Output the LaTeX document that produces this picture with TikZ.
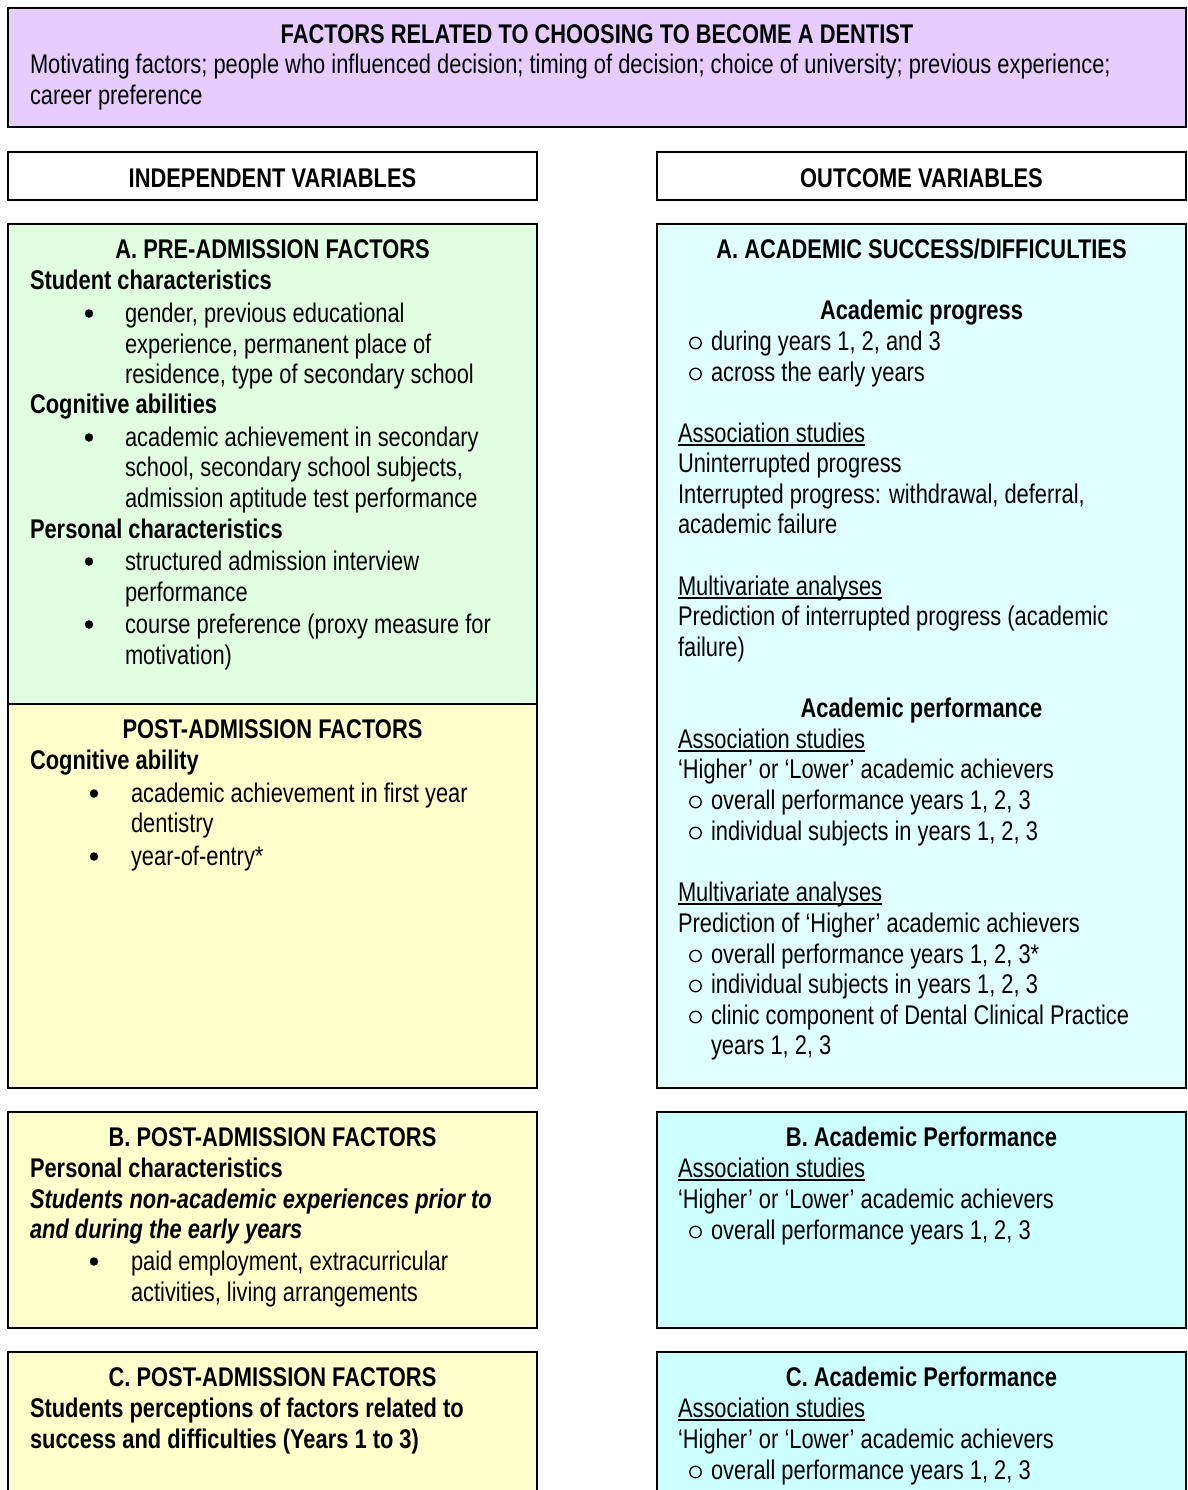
\documentclass[tikz,border=0pt]{standalone}
\usepackage{fontspec}
\setmainfont{Liberation Sans}[FakeStretch=0.81]
\definecolor{cpurple}{HTML}{E6CCFF}
\definecolor{cgreen}{HTML}{E0FFE0}
\definecolor{cyellow}{HTML}{FFFFCC}
\definecolor{ccyanA}{HTML}{E0FFFF}
\definecolor{ccyan}{HTML}{CCFFFF}
\tikzset{
  frame/.style={draw=black, line width=1.6pt},
  txt/.style={inner sep=0pt, outer sep=0pt, font=\fontsize{27}{31}\selectfont},
  lft/.style={txt, anchor=base west},
  ctr/.style={txt, anchor=base},
  dot/.style={circle, fill=black, inner sep=0pt, minimum size=8.5pt},
  ring/.style={circle, draw=black, line width=1.3pt, inner sep=0pt, minimum size=11.5pt},
  uline/.style={line width=1.7pt},
}
\newcommand\txtL[4]{\node[lft] (#1) at (#2,#3) {#4};}
\newcommand\txtC[4]{\node[ctr] (#1) at (#2,#3) {#4};}
\newcommand\txtU[3]{\node[lft] (#1) at (678,#2) {#3};
  \draw[uline] ([yshift=-3pt]#1.base west) -- ([yshift=-3pt]#1.base east);}
\newcommand\bul[5]{\node[dot] (#1) at (#2,#4-8.5) {}; \node[lft] (#1t) at (#3,#4) {#5};}
\newcommand\obul[3]{\node[ring] (#1) at (695.5,#2-7) {}; \node[lft] (#1t) at (711,#2) {#3};}
\begin{document}
\begin{tikzpicture}[x=1pt,y=-1pt]
\useasboundingbox (0,0) rectangle (1187,1490);
\clip (0,0) rectangle (1187,1490);
\fill[white] (0,0) rectangle (1187,1490);
% boxes
\path[frame, fill=cpurple] (8,8) rectangle (1186,127);
\path[frame, fill=white] (8,152) rectangle (537,200);
\path[frame, fill=white] (657,152) rectangle (1186,200);
\path[frame, fill=cgreen] (8,224) rectangle (537,704);
\path[frame, fill=cyellow] (8,704) rectangle (537,1088);
\path[frame, fill=ccyanA] (657,224) rectangle (1186,1088);
\path[frame, fill=cyellow] (8,1112) rectangle (537,1328);
\path[frame, fill=ccyan] (657,1112) rectangle (1186,1328);
\path[frame, fill=cyellow] (8,1352) rectangle (537,1520);
\path[frame, fill=ccyan] (657,1352) rectangle (1186,1520);
% top
\txtC{t0}{597}{44}{\bfseries FACTORS RELATED TO CHOOSING TO BECOME A DENTIST}
\txtL{t1}{30}{74}{Motivating factors; people who influenced decision; timing of decision; choice of university; previous experience;}
\txtL{t2}{30}{105}{career preference}
\txtC{iv}{272.5}{188}{\bfseries INDEPENDENT VARIABLES}
\txtC{ov}{921.5}{188}{\bfseries OUTCOME VARIABLES}
% left A
\txtC{la0}{272.5}{258}{\bfseries A. PRE-ADMISSION FACTORS}
\txtL{la1}{30}{289}{\bfseries Student characteristics}
\bul{la2}{89}{125}{322}{gender, previous educational}
\txtL{la3}{125}{353}{experience, permanent place of}
\txtL{la4}{125}{383}{residence, type of secondary school}
\txtL{la5}{30}{413}{\bfseries Cognitive abilities}
\bul{la6}{89}{125}{446}{academic achievement in secondary}
\txtL{la7}{125}{476}{school, secondary school subjects,}
\txtL{la8}{125}{507}{admission aptitude test performance}
\txtL{la9}{30}{538}{\bfseries Personal characteristics}
\bul{la10}{89}{125}{570}{structured admission interview}
\txtL{la11}{125}{601}{performance}
\bul{la12}{89}{125}{633}{course preference (proxy measure for}
\txtL{la13}{125}{664}{motivation)}
% post
\txtC{lp0}{272.5}{738}{\bfseries POST-ADMISSION FACTORS}
\txtL{lp1}{30}{769}{\bfseries Cognitive ability}
\bul{lp2}{94}{131}{802}{academic achievement in first year}
\txtL{lp3}{131}{832}{dentistry}
\bul{lp4}{94}{131}{865}{year-of-entry*}
% right A
\txtC{ra0}{921.5}{258}{\bfseries A. ACADEMIC SUCCESS/DIFFICULTIES}
\txtC{ra1}{921.5}{319}{\bfseries Academic progress}
\obul{ra2}{350}{during years 1, 2, and 3}
\obul{ra3}{381}{across the early years}
\txtU{ra4}{442}{Association studies}
\txtL{ra5}{678}{472}{Uninterrupted progress}
\txtL{ra6}{678}{503}{Interrupted progress: withdrawal, deferral,}
\txtL{ra7}{678}{533}{academic failure}
\txtU{ra8}{595}{Multivariate analyses}
\txtL{ra9}{678}{625}{Prediction of interrupted progress (academic}
\txtL{ra10}{678}{656}{failure)}
\txtC{ra11}{921.5}{717}{\bfseries Academic performance}
\txtU{ra12}{748}{Association studies}
\txtL{ra13}{678}{778}{‘Higher’ or ‘Lower’ academic achievers}
\obul{ra14}{809}{overall performance years 1, 2, 3}
\obul{ra15}{840}{individual subjects in years 1, 2, 3}
\txtU{ra16}{901}{Multivariate analyses}
\txtL{ra17}{678}{932}{Prediction of ‘Higher’ academic achievers}
\obul{ra18}{963}{overall performance years 1, 2, 3*}
\obul{ra19}{993}{individual subjects in years 1, 2, 3}
\obul{ra20}{1024}{clinic component of Dental Clinical Practice}
\txtL{ra21}{711}{1054}{years 1, 2, 3}
% left B
\txtC{lb0}{272.5}{1146}{\bfseries B. POST-ADMISSION FACTORS}
\txtL{lb1}{30}{1177}{\bfseries Personal characteristics}
\txtL{lb2}{30}{1208}{\bfseries\itshape Students non-academic experiences prior to}
\txtL{lb3}{30}{1238}{\bfseries\itshape and during the early years}
\bul{lb4}{94}{131}{1270}{paid employment, extracurricular}
\txtL{lb5}{131}{1301}{activities, living arrangements}
% right B
\txtC{rb0}{921.5}{1146}{\bfseries B. Academic Performance}
\txtU{rb1}{1177}{Association studies}
\txtL{rb2}{678}{1208}{‘Higher’ or ‘Lower’ academic achievers}
\obul{rb3}{1239}{overall performance years 1, 2, 3}
% left C
\txtC{lc0}{272.5}{1386}{\bfseries C. POST-ADMISSION FACTORS}
\txtL{lc1}{30}{1417}{\bfseries Students perceptions of factors related to}
\txtL{lc2}{30}{1448}{\bfseries success and difficulties (Years 1 to 3)}
% right C
\txtC{rc0}{921.5}{1386}{\bfseries C. Academic Performance}
\txtU{rc1}{1417}{Association studies}
\txtL{rc2}{678}{1448}{‘Higher’ or ‘Lower’ academic achievers}
\obul{rc3}{1479}{overall performance years 1, 2, 3}
\end{tikzpicture}
\end{document}
